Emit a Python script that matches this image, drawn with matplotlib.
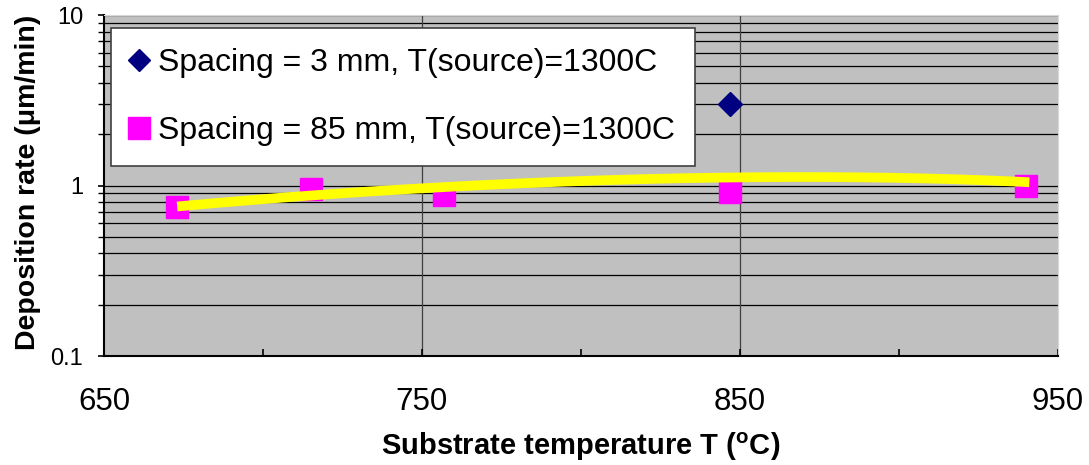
import matplotlib.pyplot as plt
import numpy as np
from matplotlib.lines import Line2D

plt.rcParams['font.family'] = ['Liberation Sans', 'DejaVu Sans']

# data
temp_3mm = [847]
rate_3mm = [3.0]

temp_85mm = [673, 715, 757, 847, 940]
rate_85mm = [0.745, 0.96, 0.875, 0.92, 1.0]

# trend line (yellow) read at a few positions
trend_x = [673, 743, 806, 856, 878, 941]
trend_y = [0.753, 0.947, 1.07, 1.12, 1.12, 1.045]

labels = ['Spacing = 3 mm, T(source)=1300C', 'Spacing = 85 mm, T(source)=1300C']

fig = plt.figure(figsize=(10.89, 4.65), dpi=100)
ax = fig.add_axes([104 / 1089, 1 - 356 / 465, 954 / 1089, 341 / 465])
ax.set_facecolor('#c0c0c0')

ax.set_yscale('log')
ax.set_ylim(0.1, 10)
ax.set_xlim(650, 950)

# grid: horizontal at every log step, vertical only at inner majors
for d in [0.1, 1]:
    for k in range(1, 10):
        v = d * k
        if 0.1 < v < 10:
            ax.axhline(v, color='black', lw=0.9, zorder=1)
ax.axhline(10, color='black', lw=0.9, zorder=1)
for xv in [750, 850]:
    ax.axvline(xv, color='#404040', lw=0.9, zorder=1)

ax.plot(temp_3mm, rate_3mm, linestyle='none', marker='D', ms=12, color='#000080', zorder=3)
ax.plot(temp_85mm, rate_85mm, linestyle='none', marker='s', ms=16.5, color='#ff00ff', zorder=3)

coef = np.polyfit(trend_x, trend_y, 3)
xs = np.linspace(trend_x[0], trend_x[-1], 200)
ax.plot(xs, np.polyval(coef, xs), color='#ffff00', lw=7, solid_capstyle='butt', zorder=4)

ax.set_xticks([650, 750, 850, 950])
ax.set_xticks([700, 800, 900], minor=True)
ax.set_yticks([0.1, 1, 10])
ax.set_yticklabels(['0.1', '1', '10'])
ax.yaxis.set_minor_locator(plt.LogLocator(base=10, subs=range(2, 10)))
ax.yaxis.set_minor_formatter(plt.NullFormatter())
ax.tick_params(axis='x', which='major', direction='in', length=5, width=1.2, labelsize=22.5, pad=22)
ax.tick_params(axis='x', which='minor', direction='in', length=5, width=1.2)
ax.tick_params(axis='y', which='major', direction='out', length=4, width=1.2, labelsize=17, pad=11)
ax.tick_params(axis='y', which='minor', direction='out', length=4, width=1.0)

for s in ['top', 'right']:
    ax.spines[s].set_color('#d8d8d8')
for s in ['left', 'bottom']:
    ax.spines[s].set_color('black')
    ax.spines[s].set_linewidth(1.5)

ax.set_xlabel('Substrate temperature T ($\\mathregular{^{o}}$C)', fontsize=21, fontweight='bold', labelpad=10)
ax.set_ylabel('Deposition rate (\u03bcm/min)', fontsize=20.5, fontweight='bold')
ax.yaxis.set_label_coords(-63 / 954, 0.51)

handles = [Line2D([], [], linestyle='none', marker='D', ms=11.5, color='#000080'),
           Line2D([], [], linestyle='none', marker='s', ms=16, color='#ff00ff')]
leg = ax.legend(handles, labels, loc='upper left', bbox_to_anchor=(111 / 1089, 1 - 28 / 465),
                bbox_transform=fig.transFigure, fontsize=23, frameon=True, fancybox=False,
                framealpha=1, edgecolor='#404040', borderaxespad=0, borderpad=0.62,
                handlelength=0.5, handletextpad=0.36, labelspacing=1.2)
leg.get_frame().set_linewidth(1.2)
leg.set_zorder(5)

fig.savefig('out.png', dpi=100)
